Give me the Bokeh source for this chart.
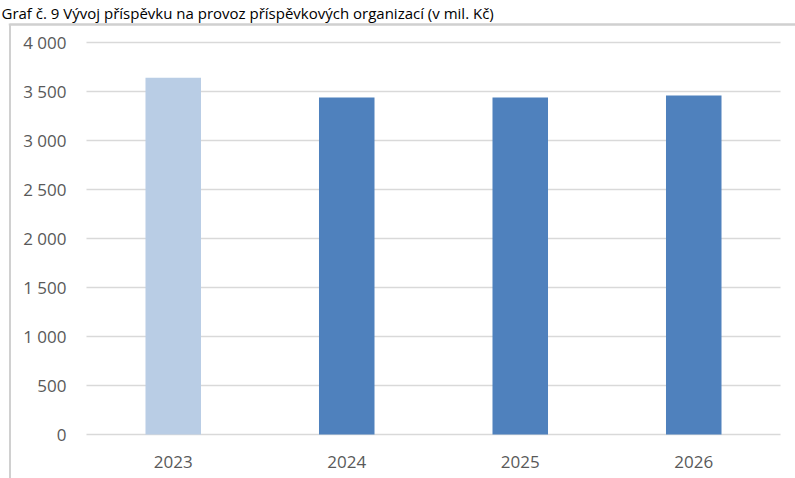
from bokeh.plotting import figure
from bokeh.models import ColumnDataSource, FixedTicker, CustomJSTickFormatter, Range1d
from bokeh.embed import file_html
from bokeh.resources import INLINE

# ---- data ----
title_text = "Graf č. 9 Vývoj příspěvku na provoz příspěvkových organizací (v mil. Kč)"
years = ["2023", "2024", "2025", "2026"]
amounts = [3640, 3440, 3440, 3460]
y_ticks = [0, 500, 1000, 1500, 2000, 2500, 3000, 3500, 4000]

# ---- styles / geometry ----
bar_colors = ["#B9CDE5", "#4F81BD", "#4F81BD", "#4F81BD"]
FONT = "Open Sans"
GRAY_TEXT = "#595959"
GRID = "#D9D9D9"
BORDER = "#D0D0D0"
W, H = 795, 478
FRAME_L, FRAME_T = 8, 22          # frame top-left corner, px
PLOT_L, PLOT_R = 86, 780          # plot area horizontal extent, px
PLOT_T, PLOT_B = 42, 434          # y of top tick / zero line, px

n = len(years)
xs = list(range(n))
px_per_cat = (PLOT_R - PLOT_L) / n
x_start = -0.5 - (PLOT_L - FRAME_L) / px_per_cat
x_end = n - 0.5 + (W - PLOT_R) / px_per_cat
y_top = y_ticks[-1]
px_per_val = (PLOT_B - PLOT_T) / y_top
y_start = -(H - PLOT_B) / px_per_val
y_end = y_top + (PLOT_T - FRAME_T) / px_per_val
# border drawn just inside the frame edges
bx = x_start + 1.5 / px_per_cat
by = y_end - 2 / px_per_val

src = ColumnDataSource(dict(x=xs, amount=amounts, color=bar_colors))

p = figure(x_range=Range1d(x_start, x_end), y_range=Range1d(y_start, y_end),
           width=W, height=H, output_backend="svg", toolbar_location=None,
           min_border_left=FRAME_L, min_border_right=0, min_border_top=FRAME_T,
           min_border_bottom=0, title=title_text)

p.title.text_font = FONT
p.title.text_font_size = "15px"
p.title.text_font_style = "normal"
p.title.text_color = "#000000"
p.title.align = "left"
p.title.offset = -7
p.title.standoff = 0

p.outline_line_color = None
p.grid.visible = False

# horizontal gridlines over the category extent
p.segment(x0=-0.5, x1=n - 0.5, y0=y_ticks, y1=y_ticks, line_color=GRID, line_width=1.5)

# bars
p.vbar(x="x", top="amount", width=0.32, color="color", source=src, line_color=None)

# chart-area border (top and left)
p.line(x=[bx, bx, x_end], y=[y_start, by, by], line_color=BORDER, line_width=2)
p.hspan(y=[by], line_color=BORDER, line_width=2)

# y axis inside the frame
p.yaxis.fixed_location = -0.5
p.yaxis.ticker = FixedTicker(ticks=y_ticks)
p.yaxis.formatter = CustomJSTickFormatter(
    code="return tick.toFixed(0).replace(/\\B(?=(\\d{3})+(?!\\d))/g, ' ');")
p.yaxis.axis_line_color = None
p.yaxis.major_tick_line_color = None
p.yaxis.minor_tick_line_color = None
p.yaxis.major_label_standoff = 14
p.yaxis.major_label_text_font = FONT
p.yaxis.major_label_text_font_size = "17px"
p.yaxis.major_label_text_color = GRAY_TEXT

# x axis inside the frame
p.xaxis.fixed_location = 0
p.xaxis.ticker = FixedTicker(ticks=xs)
p.xaxis.major_label_overrides = {i: y for i, y in zip(xs, years)}
p.xaxis.axis_line_color = None
p.xaxis.major_tick_line_color = None
p.xaxis.minor_tick_line_color = None
p.xaxis.major_label_standoff = 15
p.xaxis.major_label_text_font = FONT
p.xaxis.major_label_text_font_size = "17px"
p.xaxis.major_label_text_color = GRAY_TEXT

open("out.html", "w").write(file_html(p, INLINE))
